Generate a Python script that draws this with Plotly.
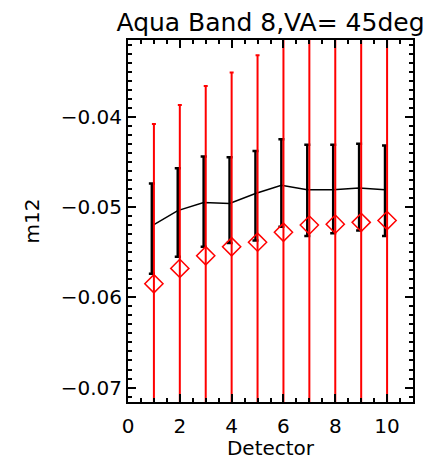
import plotly.graph_objects as go

detectors = [1, 2, 3, 4, 5, 6, 7, 8, 9, 10]
black_offset = -0.08
mean_line = [-0.0521, -0.0504, -0.0495, -0.0496, -0.0485, -0.0476, -0.0481, -0.0481, -0.0479, -0.0481]
mean_err_plus = [0.0047, 0.0047, 0.0051, 0.0051, 0.0047, 0.0051, 0.0050, 0.0050, 0.0049, 0.0049]
mean_err_minus = [0.0053, 0.0051, 0.0049, 0.0044, 0.0052, 0.0046, 0.0051, 0.0048, 0.0047, 0.0051]
red_vals = [-0.0585, -0.0568, -0.0554, -0.0544, -0.0539, -0.0528, -0.0520, -0.0519, -0.0517, -0.0515]
red_err = [0.0177, 0.0181, 0.0188, 0.0193, 0.0207, 0.0225, 0.0235, 0.0245, 0.0255, 0.0265]
x_ticks = [0, 2, 4, 6, 8, 10]
y_ticks = [-0.07, -0.06, -0.05, -0.04]

FONT = "DejaVu Sans"

fig = go.Figure()
fig.add_trace(go.Scatter(
    x=[d + black_offset for d in detectors], y=mean_line, mode="lines",
    line=dict(color="black", width=1.5),
    error_y=dict(type="data", symmetric=False, array=mean_err_plus, arrayminus=mean_err_minus,
                 color="black", thickness=2.5, width=3),
    showlegend=False,
))
fig.add_trace(go.Scatter(
    x=detectors, y=red_vals, mode="markers",
    marker=dict(symbol="diamond-open", size=14, color="red", line=dict(width=1.5, color="red")),
    error_y=dict(type="data", array=red_err, color="red", thickness=2, width=2),
    showlegend=False,
))

axis_common = dict(
    showgrid=False, zeroline=False, showline=True, linecolor="black", linewidth=2,
    mirror="ticks", ticks="inside", ticklen=8, tickwidth=1.5, tickcolor="black",
    tickfont=dict(family=FONT, size=20, color="black"), automargin=False,
)
fig.update_layout(
    width=436, height=460,
    margin=dict(l=128, r=23, t=40, b=58),
    paper_bgcolor="white", plot_bgcolor="white",
    font=dict(family=FONT, color="black"),
    title=dict(text="Aqua Band 8,VA= 45deg", x=0.5, xref="paper", xanchor="center",
               y=1 - 22 / 460, yref="container", yanchor="middle", automargin=False,
               font=dict(family=FONT, size=25, color="black")),
    xaxis=dict(range=[0, 11], tickvals=x_ticks, ticktext=[str(v) for v in x_ticks],
               ticklabelstandoff=5,
               minor=dict(dtick=0.5, ticks="inside", ticklen=4, tickwidth=1.5, tickcolor="black"),
               title=dict(text="Detector", font=dict(family=FONT, size=20, color="black"), standoff=4),
               **axis_common),
    yaxis=dict(range=[-0.0716, -0.0315], tickvals=y_ticks, tickformat=".2f",
               minor=dict(dtick=0.001, ticks="inside", ticklen=4, tickwidth=1.5, tickcolor="black"),
               title=dict(text="m12", font=dict(family=FONT, size=20, color="black"), standoff=16),
               **axis_common),
)

fig.write_html("out.html")
